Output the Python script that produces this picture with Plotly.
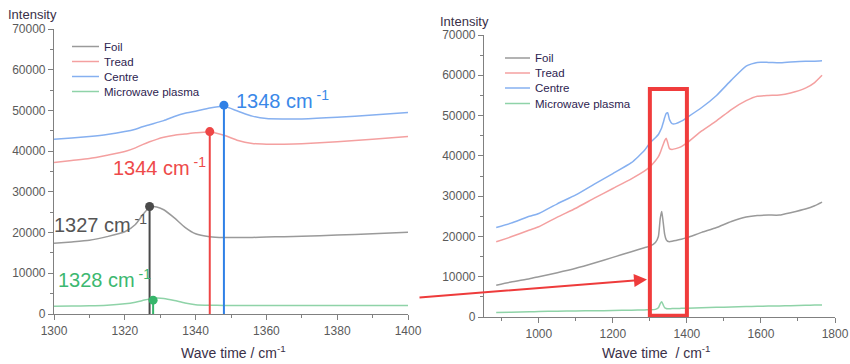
import plotly.graph_objects as go

W, H = 850, 364

# ---------------- data ----------------
series_names = ["Foil", "Tread", "Centre", "Microwave plasma"]
line_colors = ["#9a9a9a", "#f4a0a0", "#86b0f0", "#8fd3a8"]
peak_colors = ["#4a4a4a", "#ee4646", "#2f80e6", "#36b56a"]
label_colors = ["#555555", "#ee4a4a", "#3a88e8", "#3cb870"]

# left panel: zoom 1300-1400 cm-1
x_left = [1300, 1305, 1310, 1315, 1320, 1323, 1325, 1327, 1329, 1331, 1334, 1337,
          1340, 1344, 1348, 1352, 1356, 1360, 1365, 1370, 1380, 1390, 1400]
foil_left = [17400, 17700, 18100, 19000, 20200, 22000, 24300, 26200, 26300, 25600, 23600, 21300,
             19700, 19000, 18800, 18800, 18800, 18900, 19000, 19100, 19400, 19700, 20100]
tread_left = [37200, 37700, 38200, 39000, 39900, 40800, 41600, 42300, 42900, 43400, 43900, 44200,
              44500, 44700, 43900, 42600, 41900, 41700, 41700, 41800, 42300, 42900, 43600]
centre_left = [42900, 43200, 43600, 44100, 44800, 45400, 46000, 46500, 47000, 47500, 48500, 49300,
               49800, 50600, 51000, 49800, 48600, 48000, 47900, 47900, 48300, 48900, 49500]
plasma_left = [1900, 1950, 2000, 2150, 2500, 2900, 3300, 3700, 3900, 3800, 3300, 2700,
               2300, 2150, 2100, 2100, 2100, 2100, 2100, 2100, 2100, 2100, 2100]

peak_pos = [1327, 1344, 1348, 1328]
peak_int = [26400, 44800, 51300, 3400]

# right panel: full spectrum
x_right = [885, 925, 975, 1000, 1050, 1100, 1150, 1200, 1250, 1285, 1300, 1315, 1323, 1328,
           1332, 1336, 1340, 1344, 1348, 1353, 1360, 1370, 1385, 1400, 1440, 1480, 1520,
           1560, 1590, 1620, 1650, 1680, 1720, 1745, 1765]
foil_right = [7900, 8700, 9500, 10000, 11000, 12100, 13400, 14800, 16200, 17200, 17600, 18500,
              20000, 24500, 26200, 23500, 20500, 19200, 18800, 18700, 18800, 19000, 19300,
              19700, 21000, 22200, 23700, 24800, 25200, 25300, 25300, 25900, 26800, 27600, 28500]
tread_right = [18700, 19900, 21600, 22400, 24800, 27000, 29500, 31900, 34300, 36200, 37300,
               38800, 39800, 40800, 41800, 42800, 43800, 44400, 43300, 41800, 41600, 41800,
               42300, 43200, 46200, 48700, 51500, 53700, 54800, 55000, 55100, 55600, 56800,
               58200, 60000]
centre_right = [22200, 23300, 25000, 25700, 28100, 30300, 33000, 35600, 38300, 41300, 43200,
                44500, 45300, 46200, 47000, 48200, 49500, 50500, 50700, 49000, 48000, 48000,
                48600, 49500, 52000, 55000, 58800, 62300, 63200, 63200, 63100, 63300, 63500,
                63500, 63600]
plasma_right = [1100, 1200, 1300, 1350, 1450, 1500, 1550, 1600, 1700, 1750, 1800, 1900, 2300,
                3300, 3800, 3000, 2300, 2100, 2050, 2050, 2100, 2100, 2150, 2200, 2300, 2400,
                2500, 2600, 2650, 2700, 2750, 2800, 2900, 2950, 3000]

zoom_window = [1300, 1400]
zoom_box_top = 56600

y_tick_labels = ["0", "10000", "20000", "30000", "40000", "50000", "60000", "70000"]
left_x_ticks = ["1300", "1320", "1340", "1360", "1380", "1400"]
right_x_ticks = ["1000", "1200", "1400", "1600", "1800"]

# ---------------- helpers ----------------
def px(x):
    return x / W

def py(y):
    return 1 - y / H

TICK_FONT = dict(family="Liberation Sans, Arial", size=12, color="#5a5a5a")
TEXT_COLOR = "#3a3048"

fig = go.Figure()

left_series = [foil_left, tread_left, centre_left, plasma_left]
right_series = [foil_right, tread_right, centre_right, plasma_right]

for name, ys, c in zip(series_names, left_series, line_colors):
    fig.add_trace(go.Scatter(x=x_left, y=ys, mode="lines", name=name,
                             line=dict(color=c, width=1.5, shape="spline", smoothing=0.6),
                             xaxis="x", yaxis="y", showlegend=False))

for xp, yp, c in zip(peak_pos, peak_int, peak_colors):
    fig.add_trace(go.Scatter(x=[xp, xp], y=[0, yp], mode="lines",
                             line=dict(color=c, width=2), xaxis="x", yaxis="y",
                             showlegend=False, cliponaxis=False))
for xp, yp, c in zip(peak_pos, peak_int, peak_colors):
    fig.add_trace(go.Scatter(x=[xp], y=[yp], mode="markers",
                             marker=dict(color=c, size=9), xaxis="x", yaxis="y",
                             showlegend=False, cliponaxis=False))

for name, ys, c in zip(series_names, right_series, line_colors):
    fig.add_trace(go.Scatter(x=x_right, y=ys, mode="lines", name=name,
                             line=dict(color=c, width=1.5, shape="spline", smoothing=0.5),
                             xaxis="x2", yaxis="y2", showlegend=False))

axis_common = dict(showgrid=False, zeroline=False, showline=True, linecolor="#808080",
                   linewidth=1.2, ticks="outside", ticklen=5, tickwidth=1.2, tickcolor="#808080",
                   tickfont=TICK_FONT, automargin=False)

fig.update_layout(
    template="none",
    width=W, height=H,
    margin=dict(l=0, r=0, t=0, b=0, autoexpand=False),
    paper_bgcolor="white", plot_bgcolor="white",
    showlegend=False,
    xaxis=dict(domain=[px(54), px(408)], range=zoom_window, anchor="y",
               tickvals=[int(t) for t in left_x_ticks], ticktext=left_x_ticks,
               minor=dict(dtick=10, ticklen=3, tickcolor="#808080", ticks="outside"),
               **axis_common),
    yaxis=dict(domain=[py(314), py(29)], range=[0, 70000], anchor="x",
               tickvals=[int(t) for t in y_tick_labels], ticktext=y_tick_labels,
               minor=dict(dtick=5000, ticklen=3, tickcolor="#808080", ticks="outside"),
               **axis_common),
    xaxis2=dict(domain=[px(484), px(835)], range=[852, 1800], anchor="y2",
                tickvals=[int(t) for t in right_x_ticks], ticktext=right_x_ticks,
                minor=dict(tick0=0, dtick=100, ticklen=3, tickcolor="#808080", ticks="outside"),
                **axis_common),
    yaxis2=dict(domain=[py(317), py(35)], range=[0, 70000], anchor="x2",
                tickvals=[int(t) for t in y_tick_labels], ticktext=y_tick_labels,
                minor=dict(dtick=5000, ticklen=3, tickcolor="#808080", ticks="outside"),
                **axis_common),
)

annotations = []
shapes = []

# axis titles
annotations.append(dict(text="Intensity", x=px(6), y=py(15), xref="paper", yref="paper",
                        xanchor="left", yanchor="middle", showarrow=False,
                        font=dict(family="Liberation Sans, Arial", size=13, color=TEXT_COLOR)))
annotations.append(dict(text="Intensity", x=px(438), y=py(21), xref="paper", yref="paper",
                        xanchor="left", yanchor="middle", showarrow=False,
                        font=dict(family="Liberation Sans, Arial", size=13, color=TEXT_COLOR)))
annotations.append(dict(text="Wave time / cm<sup>-1</sup>", x=px(233), y=py(352),
                        xref="paper", yref="paper", xanchor="center", yanchor="middle",
                        showarrow=False,
                        font=dict(family="Liberation Sans, Arial", size=14, color=TEXT_COLOR)))
annotations.append(dict(text="Wave time  / cm<sup>-1</sup>", x=px(656), y=py(352),
                        xref="paper", yref="paper", xanchor="center", yanchor="middle",
                        showarrow=False,
                        font=dict(family="Liberation Sans, Arial", size=14, color=TEXT_COLOR)))

# legends (manual)
def legend(x0, x1, xt, ys):
    for name, c, yy in zip(series_names, line_colors, ys):
        shapes.append(dict(type="line", xref="paper", yref="paper",
                           x0=px(x0), x1=px(x1), y0=py(yy), y1=py(yy),
                           line=dict(color=c, width=1.5)))
        annotations.append(dict(text=name, x=px(xt), y=py(yy), xref="paper", yref="paper",
                                xanchor="left", yanchor="middle", showarrow=False,
                                font=dict(family="Liberation Sans, Arial", size=11.5,
                                          color="#2d2350")))

legend(72, 99, 102, [46.5, 61.5, 76.5, 91.5])
legend(505, 530, 533, [58, 73, 88, 103.5])

# peak labels (left edge px, text bottom px)
label_pos = [(53, 237), (112, 180), (235, 113), (57, 292)]
for xp, (lx, ly), c in zip(peak_pos, label_pos, label_colors):
    annotations.append(dict(text=f"{xp} cm<sup> -1</sup>", x=px(lx), y=py(ly),
                            xref="paper", yref="paper", xanchor="left", yanchor="bottom",
                            showarrow=False, borderpad=0,
                            font=dict(family="Liberation Sans, Arial", size=20, color=c)))

# zoom box in the right panel
shapes.append(dict(type="rect", xref="x2", yref="y2", x0=zoom_window[0], x1=zoom_window[1],
                   y0=300, y1=zoom_box_top, line=dict(color="#f03c3c", width=4),
                   fillcolor="rgba(0,0,0,0)"))

# arrow from the left panel to the box
annotations.append(dict(text="", x=px(647), y=py(279.5), xref="paper", yref="paper",
                        ax=418 - 647, ay=297.5 - 279.5, axref="pixel", ayref="pixel",
                        showarrow=True, arrowhead=2, arrowsize=1.3, arrowwidth=2,
                        arrowcolor="#ee3b3b", standoff=0))

fig.update_layout(annotations=annotations, shapes=shapes)

fig.write_html("out.html",
               config={"displayModeBar": False},
               post_script="document.body.style.margin='0';document.body.style.overflow='hidden';")
